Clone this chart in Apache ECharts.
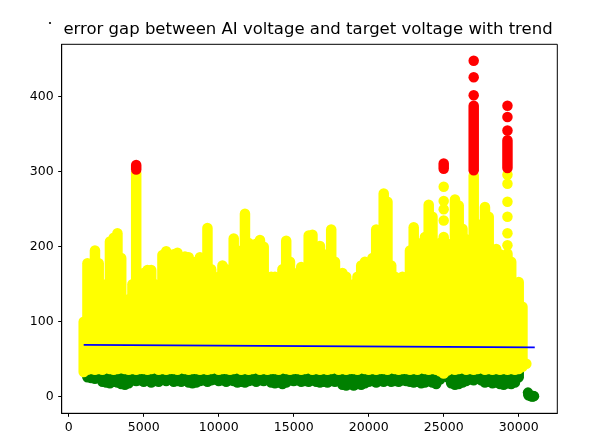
<!DOCTYPE html>
<html>
<head>
<meta charset="utf-8">
<script src="https://cdn.jsdelivr.net/npm/echarts@6/dist/echarts.min.js"></script>
<style>html,body{margin:0;padding:0;background:#fff}#c{width:591px;height:445px}</style>
</head>
<body>
<div id="c"></div>
<script>
// ---- data ----
const titleText = 'error gap between AI voltage and target voltage with trend';
const xTicks = [0, 5000, 10000, 15000, 20000, 25000, 30000];
const yTicks = [0, 100, 200, 300, 400];

// sample index (x) of each column of the dense scatter
const colX = [1000,1250,1500,1750,2000,2250,2500,2750,3000,3250,3500,3750,4000,4250,4500,4750,
5000,5250,5500,5750,6000,6250,6500,6750,7000,7250,7500,7750,8000,8250,8500,8750,
9000,9250,9500,9750,10000,10250,10500,10750,11000,11250,11500,11750,12000,12250,12500,12750,
13000,13250,13500,13750,14000,14250,14500,14750,15000,15250,15500,15750,16000,16250,16500,16750,
17000,17250,17500,17750,18000,18250,18500,18750,19000,19250,19500,19750,20000,20250,20500,20750,
21000,21250,21500,21750,22000,22250,22500,22750,23000,23250,23500,23750,24000,24250,24500,24750,
25000,25250,25500,25750,26000,26250,26500,26750,27000,27250,27500,27750,28000,28250,28500,28750,
29000,29250,29500,29750,30000,30250];

// highest yellow value in each column
const colTop = [100,178,172,195,178,135,150,207,212,218,185,125,130,150,298,152,
165,169,169,150,145,189,194,175,190,192,160,187,186,160,180,186,
150,225,170,147,160,175,170,150,211,195,150,244,205,150,204,209,
200,150,160,160,145,170,208,180,145,165,173,150,215,216,160,201,
190,150,223,180,140,165,160,140,150,160,175,180,165,185,223,200,
271,260,175,160,155,160,150,195,226,205,180,213,256,240,185,205,
213,204,200,263,255,224,210,185,295,230,200,253,240,185,197,190,
160,191,180,150,153,120];

// lowest yellow value in each column
const colYellowLow = [33,36,37,36,37,36,38,37,36,37,38,37,36,37,36,37,
37,36,37,38,36,37,36,37,37,36,38,37,36,37,37,36,
37,36,37,38,36,37,37,36,37,38,36,37,36,37,38,36,
37,36,37,37,36,38,37,36,37,37,36,37,38,36,37,36,
37,36,37,38,36,37,36,37,37,36,38,37,36,37,36,37,
37,36,38,37,36,37,37,36,37,36,38,37,36,37,36,34,
31,35,37,36,37,38,36,37,36,37,38,36,37,36,37,36,
37,36,37,36,37,40];

// lowest green value in each column (null = no green there)
const colGreenLow = [null,26,25,24,26,20,19,18,20,19,17,16,18,22,21,22,
20,22,19,21,20,23,21,24,20,21,20,22,19,18,19,21,
22,20,22,23,21,22,20,22,21,19,20,19,21,22,20,22,
21,23,19,18,19,17,19,22,21,22,20,21,20,22,20,19,
20,19,21,20,22,16,15,17,15,17,16,18,20,21,19,21,
20,22,20,21,20,22,21,20,19,20,18,19,21,19,17,23,
28,26,18,16,17,19,21,23,22,24,22,19,20,18,19,17,
16,18,17,19,26,null];
const greenTopValue = 32;

// continuous red runs: [x, low, high]
const redRuns = [[4500, 303, 309], [25000, 304, 311], [27000, 302, 388], [29250, 305, 342]];
// isolated red points
const redPoints = [[27000, 402], [27000, 426], [27000, 448], [29250, 355], [29250, 373], [29250, 388]];
// isolated yellow points
const yellowPoints = [[25000, 235], [25000, 250], [25000, 261], [25000, 280],
  [29250, 202], [29250, 218], [29250, 240], [29250, 260], [29250, 284], [29250, 296], [30510, 44]];
// green points near zero at the end
const greenPoints = [[30620, 5.5], [30650, 2], [30750, 1.5], [30850, 0.5], [30900, 0.3], [30980, 1], [31020, 0.8]];
// trend line end points
const trendX = [1000, 31070];
const trendY = [69.2, 65.7];

// ---- chart ----
const R = 5.25; // marker radius in px
function capsule(color) {
  return function (params, api) {
    const x = api.value(0), lo = api.value(1), hi = api.value(2);
    const pHi = api.coord([x, hi]);
    const pLo = api.coord([x, lo]);
    return {
      type: 'rect',
      shape: { x: pHi[0] - R, y: pHi[1] - R, width: 2 * R, height: pLo[1] - pHi[1] + 2 * R, r: R },
      style: { fill: color }
    };
  };
}

const greenData = [];
const yellowData = [];
colX.forEach((x, i) => {
  if (colGreenLow[i] != null) greenData.push([x, colGreenLow[i], greenTopValue]);
  yellowData.push([x, colYellowLow[i], colTop[i]]);
});

const chart = echarts.init(document.getElementById('c'), null, { renderer: 'canvas' });
const axisCommon = {
  axisLine: { show: true, onZero: false, lineStyle: { color: '#000', width: 1 } },
  axisTick: { show: true, inside: false, length: 3.5, lineStyle: { color: '#000', width: 1 } },
  splitLine: { show: false },
  axisLabel: { color: '#000', fontSize: 12.5, fontFamily: 'DejaVu Sans', formatter: v => String(v) }
};
chart.setOption({
  animation: false,
  backgroundColor: '#fff',
  graphic: [
    { type: 'text', silent: true, style: { text: titleText, x: 308, y: 30, align: 'center', verticalAlign: 'middle',
      fill: '#000', font: '16.5px "DejaVu Sans"' } },
    { type: 'circle', silent: true, shape: { cx: 50, cy: 23, r: 1.1 }, style: { fill: '#000' } }
  ],
  grid: { left: 61.7, right: 33.7, top: 44.3, bottom: 31.7, show: true, borderColor: '#000', borderWidth: 1, containLabel: false },
  xAxis: Object.assign({}, axisCommon, {
    type: 'value', min: -467, max: 32573,
    axisTick: Object.assign({}, axisCommon.axisTick, { customValues: xTicks }),
    axisLabel: Object.assign({}, axisCommon.axisLabel, { customValues: xTicks, margin: 8 })
  }),
  yAxis: Object.assign({}, axisCommon, {
    type: 'value', min: -22.1, max: 469.9,
    axisTick: Object.assign({}, axisCommon.axisTick, { customValues: yTicks }),
    axisLabel: Object.assign({}, axisCommon.axisLabel, { customValues: yTicks, margin: 8 })
  }),
  series: [
    { type: 'custom', renderItem: capsule('#008000'), data: greenData, z: 1, silent: true },
    { type: 'custom', renderItem: capsule('#ffff00'), data: yellowData, z: 2, silent: true },
    { type: 'scatter', data: yellowPoints, symbolSize: 2 * R, itemStyle: { color: '#ffff00', opacity: 1 }, z: 3, silent: true },
    { type: 'custom', renderItem: capsule('#ff0000'), data: redRuns, z: 4, silent: true },
    { type: 'scatter', data: redPoints, symbolSize: 2 * R, itemStyle: { color: '#ff0000', opacity: 1 }, z: 5, silent: true },
    { type: 'scatter', data: greenPoints, symbolSize: 2 * R, itemStyle: { color: '#008000', opacity: 1 }, z: 5, silent: true },
    { type: 'line', data: trendX.map((x, i) => [x, trendY[i]]), symbol: 'none', lineStyle: { color: '#0000ff', width: 1.8 }, z: 6, silent: true }
  ]
});
</script>
</body>
</html>
